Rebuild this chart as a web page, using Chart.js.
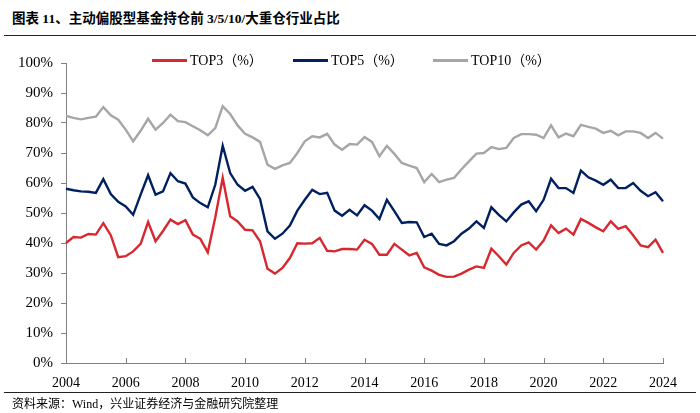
<!DOCTYPE html>
<html>
<head>
<meta charset="utf-8">
<script src="https://cdn.jsdelivr.net/npm/chart.js@4.4.1/dist/chart.umd.min.js"></script>
<style>
    body { margin: 0; background: #fff; }
    #wrap { position: relative; width: 700px; height: 413px; overflow: hidden; font-family: "Liberation Serif", "Noto Sans CJK SC", serif; }
    #chartBox { position: absolute; left: 0; top: 0; width: 700px; height: 413px; }
    .title { position: absolute; left: 12px; top: 7px; font-size: 13.5px; font-weight: bold; color: #000; white-space: nowrap; }
    .rule { position: absolute; left: 4px; width: 692px; height: 1px; background: #222; }
    .source { position: absolute; left: 12px; top: 394px; font-size: 12px; color: #000; white-space: nowrap; }
    .legend-item { position: absolute; top: 52px; font-size: 14px; color: #000; white-space: nowrap; line-height: 18px; }
    .legend-item span.swatch { display: inline-block; width: 35px; height: 3px; vertical-align: middle; margin-right: 3px; position: relative; top: -1px; }
</style>
</head>
<body>
<div id="wrap">
    <div class="title">图表 11、主动偏股型基金持仓前 3/5/10/大重仓行业占比</div>
    <div class="rule" style="top:35px"></div>
    <div id="chartBox"><canvas id="chart"></canvas></div>
    <div class="legend-item" style="left:152px"><span class="swatch" style="background:#d7282f"></span>TOP3（%）</div>
    <div class="legend-item" style="left:293px"><span class="swatch" style="background:#002060"></span>TOP5（%）</div>
    <div class="legend-item" style="left:433px"><span class="swatch" style="background:#a6a6a6"></span>TOP10（%）</div>
    <div class="rule" style="top:392px"></div>
    <div class="source">资料来源：Wind，兴业证券经济与金融研究院整理</div>
</div>

<script>
/* =====================================
   Data (quarterly, 2004Q1 - 2024Q1)
===================================== */
const years = [2004, 2005, 2006, 2007, 2008, 2009, 2010, 2011, 2012, 2013, 2014,
               2015, 2016, 2017, 2018, 2019, 2020, 2021, 2022, 2023, 2024];

const tickLabels = ["2004", "2006", "2008", "2010", "2012", "2014",
                    "2016", "2018", "2020", "2022", "2024"];

const top3 = [40.0, 42.0, 41.8, 43.0, 42.8, 46.6, 42.6, 35.3, 35.6, 37.2, 39.7, 47.0, 40.6,
              44.0, 47.8, 46.3, 47.6, 42.8, 41.4, 36.9, 48.5, 61.7, 48.9, 47.2, 44.4, 44.2,
              40.6, 31.4, 29.8, 31.7, 35.0, 39.9, 39.8, 39.9, 41.7, 37.4, 37.2, 38.0, 38.0,
              37.8, 41.1, 39.7, 36.1, 36.1, 39.7, 37.8, 35.9, 36.7, 31.9, 30.8, 29.4, 28.7,
              28.8, 29.8, 31.1, 32.2, 31.7, 38.1, 35.6, 32.8, 36.7, 39.2, 40.2, 37.8, 40.8,
              45.9, 43.3, 44.8, 42.8, 48.0, 46.7, 45.2, 43.9, 47.2, 44.7, 45.6, 42.6, 39.2,
              38.6, 41.1, 36.7];

const top5 = [58.1, 57.6, 57.2, 57.1, 56.7, 61.3, 56.3, 53.7, 52.2, 49.4, 56.1, 62.6, 56.1,
              57.2, 63.3, 60.6, 59.8, 55.2, 53.3, 51.9, 59.4, 72.4, 63.3, 59.4, 57.4, 58.7,
              54.7, 43.9, 41.4, 43.1, 45.8, 50.8, 54.4, 57.7, 56.3, 56.7, 50.8, 49.1, 51.1,
              49.2, 52.6, 50.8, 48.0, 54.4, 50.6, 46.7, 47.0, 46.9, 42.0, 43.1, 39.7, 39.2,
              40.6, 43.1, 44.8, 47.2, 45.0, 51.9, 49.4, 47.2, 50.2, 52.8, 53.9, 50.6, 54.4,
              61.4, 58.3, 58.3, 56.7, 64.1, 61.9, 60.8, 59.4, 61.1, 58.3, 58.3, 60.0, 57.4,
              55.6, 56.9, 53.9];

const top10 = [82.4, 81.7, 81.2, 81.7, 82.1, 85.3, 82.6, 81.1, 77.8, 73.9, 77.4, 81.4, 77.8,
               80.0, 82.8, 80.6, 80.3, 78.9, 77.6, 75.9, 78.3, 85.6, 83.0, 79.2, 76.4, 75.2,
               73.7, 66.1, 64.7, 65.9, 66.7, 70.0, 73.9, 75.6, 75.2, 76.4, 72.8, 71.1, 73.0,
               72.8, 75.3, 73.7, 68.9, 72.4, 69.7, 66.7, 65.8, 65.0, 60.3, 63.0, 60.3, 61.1,
               61.7, 64.6, 67.2, 69.8, 70.0, 72.0, 71.3, 71.7, 75.0, 76.3, 76.3, 76.1, 75.0,
               79.2, 75.2, 76.5, 75.6, 79.4, 78.7, 78.1, 76.7, 77.4, 75.9, 77.2, 77.2, 76.7,
               75.0, 76.7, 74.8];

/* build quarter categories */
let quarters = [];
for (let y of years) {
    for (let q = 1; q <= 4; q++) {
        if (quarters.length < top3.length) quarters.push(y + "Q" + q);
    }
}

/* =====================================
   Small inward x ticks (every 2 years)
===================================== */
const xTickMarks = {
    id: "xTickMarks",
    beforeDatasetsDraw(chart) {
        let ctx = chart.ctx;
        let xs = chart.scales.x;
        let bottom = chart.chartArea.bottom;
        ctx.save();
        ctx.strokeStyle = "#808080";
        ctx.lineWidth = 1;
        for (let i = 0; i < quarters.length; i += 8) {
            let x = Math.round(xs.getPixelForValue(i)) + 0.5;
            ctx.beginPath();
            ctx.moveTo(x, bottom);
            ctx.lineTo(x, bottom - 5);
            ctx.stroke();
        }
        ctx.restore();
    }
};

/* =====================================
   Chart
===================================== */
function makeSet(label, data, color) {
    return {
        label: label,
        data: data,
        borderColor: color,
        backgroundColor: color,
        borderWidth: 2.4,
        pointRadius: 0,
        tension: 0,
        fill: false
    };
}

new Chart(document.getElementById("chart"), {
    type: "line",
    data: {
        labels: quarters,
        datasets: [
            makeSet("TOP3（%）", top3, "#d7282f"),
            makeSet("TOP5（%）", top5, "#002060"),
            makeSet("TOP10（%）", top10, "#a6a6a6")
        ]
    },
    options: {
        responsive: true,
        maintainAspectRatio: false,
        animation: false,
        layout: { padding: { left: 0, right: 37, top: 63, bottom: 20 } },
        plugins: {
            legend: { display: false },
            tooltip: { enabled: false }
        },
        scales: {
            x: {
                type: "category",
                offset: false,
                grid: { display: false },
                border: { color: "#808080", width: 1 },
                ticks: {
                    autoSkip: false,
                    maxRotation: 0,
                    padding: 4,
                    color: "#000",
                    font: { family: "Liberation Serif", size: 14 },
                    callback: function (val, index) {
                        return index % 8 === 0 ? tickLabels[index / 8] : "";
                    }
                },
                afterFit: function (scale) { scale.height = 30; }
            },
            y: {
                min: 0,
                max: 100,
                grid: { drawOnChartArea: false, tickLength: 5, tickColor: "#808080" },
                border: { color: "#808080", width: 1 },
                ticks: {
                    stepSize: 10,
                    padding: 8,
                    color: "#000",
                    font: { family: "Liberation Serif", size: 15 },
                    callback: function (v) { return v + "%"; }
                },
                afterFit: function (scale) { scale.width = 66; }
            }
        }
    },
    plugins: [xTickMarks]
});
</script>
</body>
</html>
